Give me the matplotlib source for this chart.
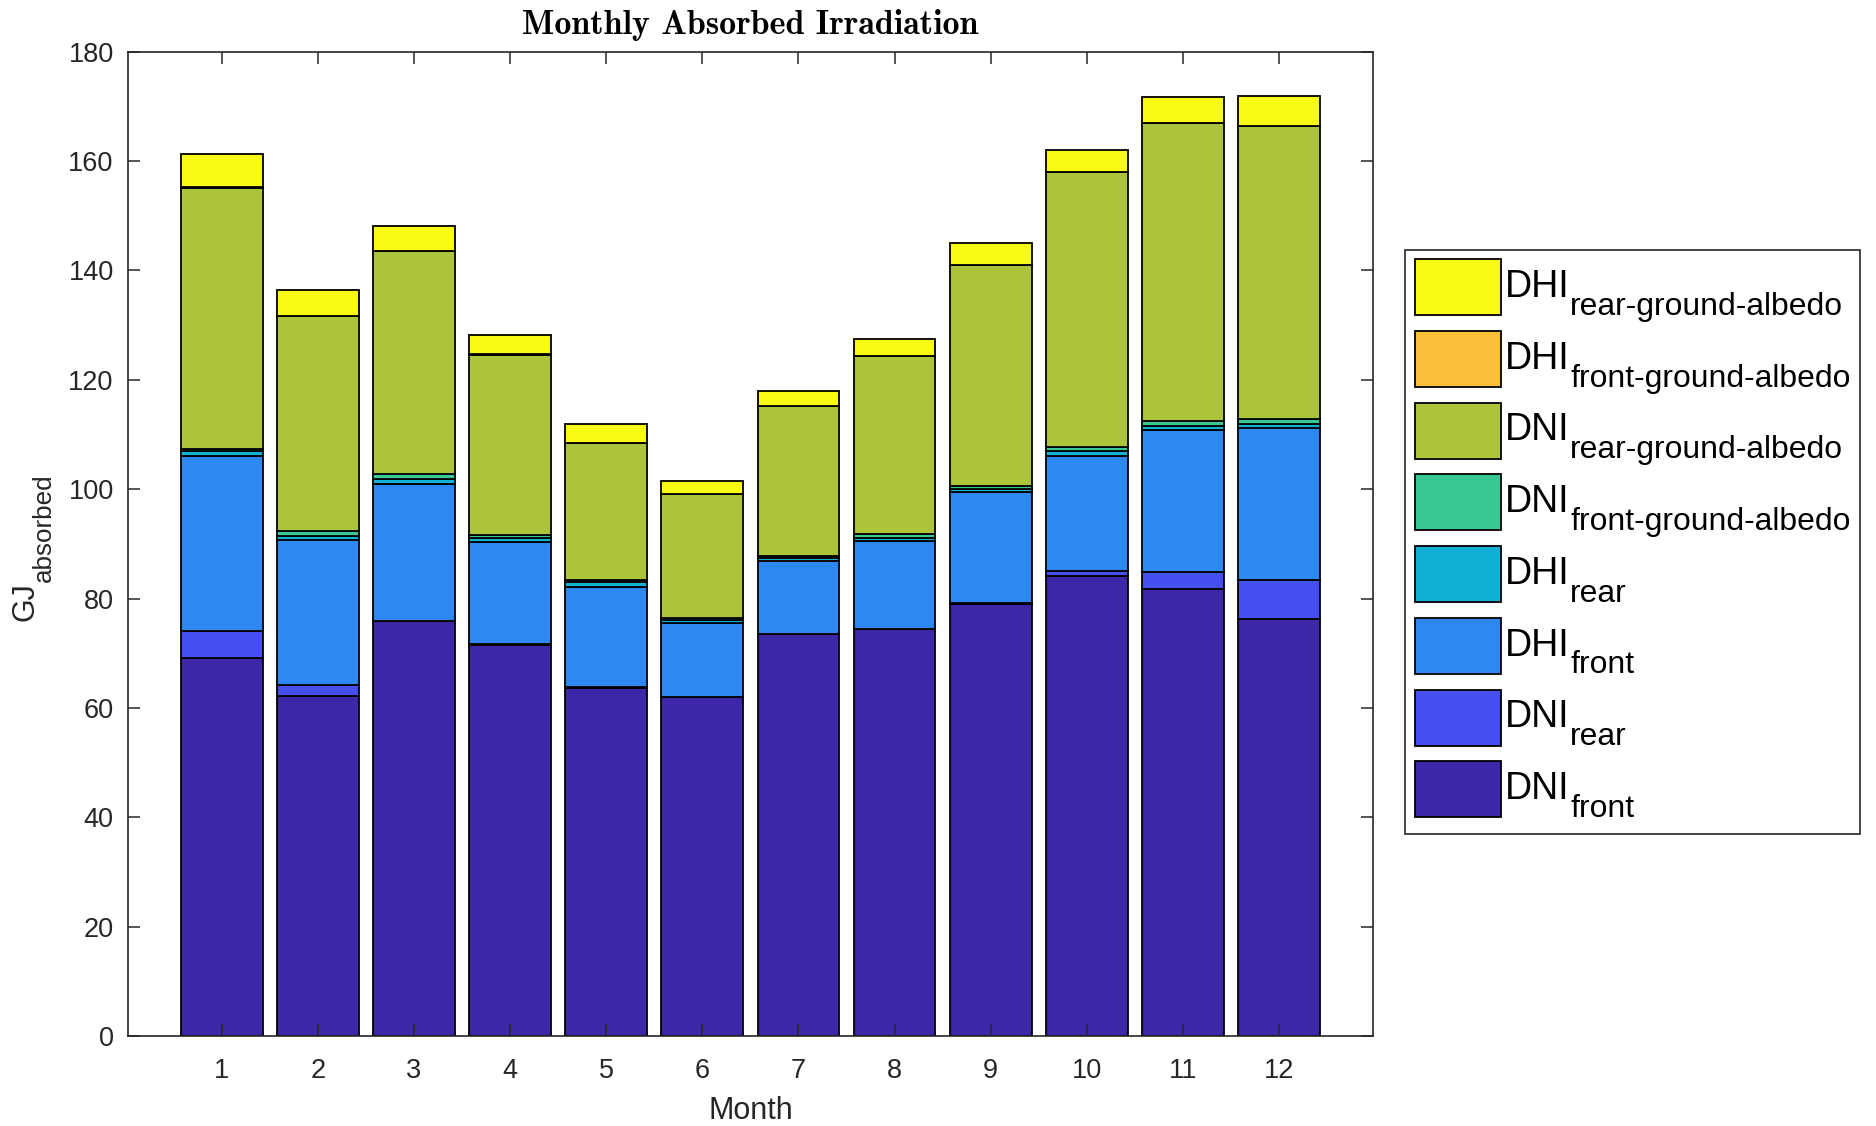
import matplotlib
matplotlib.use("Agg")
import matplotlib.pyplot as plt
import numpy as np
from matplotlib.offsetbox import (AnchoredOffsetbox, DrawingArea, TextArea,
                                  HPacker, VPacker)
from matplotlib.patches import Rectangle

plt.rcParams['font.family'] = ['Liberation Sans', 'DejaVu Sans']

months = np.arange(1, 13)
month_labels = [str(m) for m in months]

# Absorbed irradiation components per month (GJ)
dni_front = [69.2, 62.1, 75.8, 71.5, 63.7, 61.9, 73.5, 74.4, 79.0, 84.2, 81.7, 76.3]
dni_rear = [4.8, 2.1, 0.1, 0.1, 0.05, 0.05, 0.05, 0.05, 0.1, 0.8, 3.2, 7.1]
dhi_front = [32.1, 26.5, 25.1, 18.8, 18.4, 13.6, 13.3, 16.0, 20.3, 21.1, 25.9, 27.7]
dhi_rear = [0.9, 0.8, 0.8, 0.6, 0.8, 0.6, 0.5, 0.7, 0.7, 0.8, 0.8, 0.8]
dni_front_ground = [0.4, 0.9, 0.9, 0.6, 0.5, 0.2, 0.5, 0.6, 0.5, 0.8, 0.8, 0.9]
dni_rear_ground = [47.6, 39.2, 40.8, 33.0, 25.0, 22.8, 27.4, 32.6, 40.4, 50.3, 54.5, 53.6]
dhi_front_ground = [0.3, 0.05, 0.05, 0.05, 0.05, 0.05, 0.05, 0.05, 0.05, 0.05, 0.05, 0.05]
dhi_rear_ground = [6.0, 4.7, 4.6, 3.5, 3.5, 2.3, 2.6, 3.0, 4.0, 3.9, 4.8, 5.5]

series = [dni_front, dni_rear, dhi_front, dhi_rear,
          dni_front_ground, dni_rear_ground, dhi_front_ground, dhi_rear_ground]
label_main = ['DNI', 'DNI', 'DHI', 'DHI', 'DNI', 'DNI', 'DHI', 'DHI']
label_sub = ['front', 'rear', 'front', 'rear',
             'front-ground-albedo', 'rear-ground-albedo',
             'front-ground-albedo', 'rear-ground-albedo']
colors = ['#3E26A8', '#4650F0', '#2D88F1', '#12B0D5',
          '#38C893', '#ACC43A', '#FCBF3A', '#F8FA14']

axis_color = '#262626'
tick_size = 19.5
label_size = 22
sub_ratio = 0.85

fig = plt.figure(figsize=(18.76, 11.26), dpi=100)
ax = fig.add_axes([0.068, 0.080, 0.664, 0.874])

bottom = np.zeros(len(months))
for vals, col in zip(series, colors):
    vals = np.asarray(vals, dtype=float)
    ax.bar(months, vals, width=0.85, bottom=bottom, color=col,
           edgecolor='black', linewidth=1.3)
    bottom += vals

ax.set_xlim(0.02, 12.98)
ax.set_ylim(0, 180)
ax.set_xticks(months)
ax.set_xticklabels(month_labels)
ax.set_yticks(np.arange(0, 181, 20))
ax.tick_params(axis='both', direction='in', length=8.5, width=1.1,
               top=True, right=True, colors=axis_color, labelsize=tick_size)
ax.tick_params(axis='x', pad=16)
ax.tick_params(axis='y', pad=10)
for sp in ax.spines.values():
    sp.set_color(axis_color)
    sp.set_linewidth(1.2)

ax.set_xlabel('Month', fontsize=label_size, color=axis_color)
ax.xaxis.set_label_coords(0.5, -0.0615)

# y label: "GJ" with a large subscript set alongside it
ax.set_ylabel('GJ', fontsize=label_size, color=axis_color)
ax.yaxis.set_label_coords(-0.0695, 0.441)
ax.annotate('absorbed', xy=(1, 1), xycoords=ax.yaxis.label,
            xytext=(7.0, 0.5), textcoords='offset points',
            rotation=90, rotation_mode='anchor', ha='left', va='baseline',
            fontsize=label_size * sub_ratio, color=axis_color,
            annotation_clip=False)

ax.set_title('Monthly Absorbed Irradiation', fontfamily='cmb10', fontsize=24.5,
             color='black', pad=13)

# Legend: colour swatch, main name and a large subscript per entry
leg_size = 27
sub_size = leg_size * sub_ratio
sw_w, sw_h = 61.9, 40.3      # swatch size in points
sub_desc = 0.207 * sub_size  # descent of the subscript line
main_desc = 0.207 * leg_size
drop = 13.0                  # subscript baseline drop below the main baseline

rows = []
for main, sub, col in list(zip(label_main, label_sub, colors))[::-1]:
    da = DrawingArea(sw_w, sw_h + sub_desc, 0, 0)
    da.add_artist(Rectangle((0, sub_desc), sw_w, sw_h, facecolor=col,
                            edgecolor='black', linewidth=1.3))
    main_ta = TextArea(main, textprops=dict(fontsize=leg_size, color='black'))
    spacer = DrawingArea(1, drop - main_desc + sub_desc, 0, 0)
    main_box = VPacker(children=[main_ta, spacer], sep=0, pad=0, align='left')
    sub_ta = TextArea(sub, textprops=dict(fontsize=sub_size, color='black'))
    text_box = HPacker(children=[main_box, sub_ta], sep=0.5, pad=0, align='bottom')
    rows.append(HPacker(children=[da, text_box], sep=3, pad=0, align='bottom'))

legend_body = VPacker(children=rows, sep=6.6, pad=0, align='left')
legend_box = AnchoredOffsetbox(loc='center left', child=legend_body, pad=0.7,
                               borderpad=0, frameon=True, prop=dict(size=10),
                               bbox_to_anchor=(0.749, 0.519),
                               bbox_transform=fig.transFigure)
legend_box.patch.set_boxstyle('square', pad=0)
legend_box.patch.set_edgecolor(axis_color)
legend_box.patch.set_linewidth(1.2)
fig.add_artist(legend_box)

fig.savefig('out.png', dpi=100)
